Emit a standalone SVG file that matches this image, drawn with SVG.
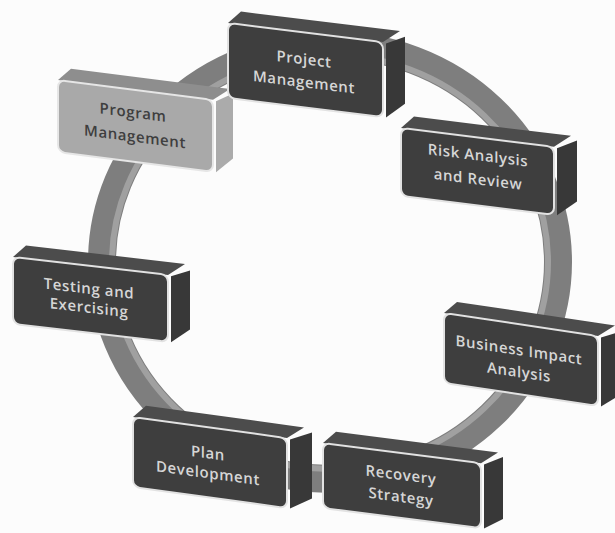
<svg xmlns="http://www.w3.org/2000/svg" width="615" height="533" viewBox="0 0 615 533">
<style>
.front{fill:#3e3e3e;stroke:#e2e2e2;stroke-width:2}
.top{fill:#4c4c4c}
.side{fill:#383838}
.lfront{fill:#a9a9a9;stroke:#e6e6e6;stroke-width:2}
.ltop{fill:#8e8e8e}
.lside{fill:#ababab}
.t{font-family:"Open Sans","Liberation Sans",sans-serif;font-size:15px;font-weight:600;fill:#d6d6d6;text-anchor:middle;letter-spacing:0.6px}
.td{fill:#3e3e3e}
</style>
<rect width="615" height="533" fill="#fcfcfc"/>
<g id="connectors">
<ellipse cx="330" cy="262" rx="228" ry="217" fill="none" stroke="#7e7e7e" stroke-width="28"/>
<ellipse cx="330" cy="262" rx="218" ry="207" fill="none" stroke="#a0a0a0" stroke-width="6"/>
</g>
<g id="program" transform="translate(58,80) skewY(7.3)">
<polygon class="ltop" points="0,0 13,-13 172,-13 155,0"/>
<polygon class="lside" points="158,1 175,-9 175,56 158,72"/>
<rect class="lfront" width="155" height="72" rx="7"/>
<text class="t td" x="75" y="28">Program</text>
<text class="t td" x="77" y="52">Management</text>
</g>
<g id="project" transform="translate(228,23) skewY(7)">
<polygon class="top" points="0,0 13,-13 172,-13 155,0"/>
<polygon class="side" points="158,1 177,-8 177,59 158,75"/>
<rect class="front" width="155" height="75" rx="7"/>
<text class="t" x="76" y="32">Project</text>
<text class="t" x="76" y="55">Management</text>
</g>
<g id="risk" transform="translate(401,128) skewY(7)">
<polygon class="top" points="0,0 13,-13 170,-13 153,0"/>
<polygon class="side" points="156,1 176,-9 176,52 156,68"/>
<rect class="front" width="153" height="68" rx="7"/>
<text class="t" x="77" y="23">Risk Analysis</text>
<text class="t" x="77" y="47">and Review</text>
</g>
<g id="testing" transform="translate(13,257) skewY(6.6)">
<polygon class="top" points="0,0 13,-13 172,-13 155,0"/>
<polygon class="side" points="158,1 177,-7 177,52 158,67"/>
<rect class="front" width="155" height="67" rx="7"/>
<text class="t" x="76" y="28">Testing and</text>
<text class="t" x="76" y="47">Exercising</text>
</g>
<g id="business" transform="translate(444,313) skewY(8.5)">
<polygon class="top" points="0,0 13,-13 171,-13 154,0"/>
<polygon class="side" points="157,1 177,-8 177,55 157,70"/>
<rect class="front" width="154" height="70" rx="7"/>
<text class="t" x="75" y="31">Business Impact</text>
<text class="t" x="75" y="53">Analysis</text>
</g>
<g id="plan" transform="translate(133,417) skewY(7.8)">
<polygon class="top" points="0,0 13,-13 171,-13 154,0"/>
<polygon class="side" points="157,1 179,-9 179,57 157,70"/>
<rect class="front" width="154" height="70" rx="7"/>
<text class="t" x="75" y="31">Plan</text>
<text class="t" x="75" y="51">Development</text>
</g>
<g id="recovery" transform="translate(323,443) skewY(7.3)">
<polygon class="top" points="0,0 13,-13 175,-13 158,0"/>
<polygon class="side" points="161,1 180,-9 180,53 161,65"/>
<rect class="front" width="158" height="65" rx="7"/>
<text class="t" x="78" y="27">Recovery</text>
<text class="t" x="78" y="49">Strategy</text>
</g>
</svg>
